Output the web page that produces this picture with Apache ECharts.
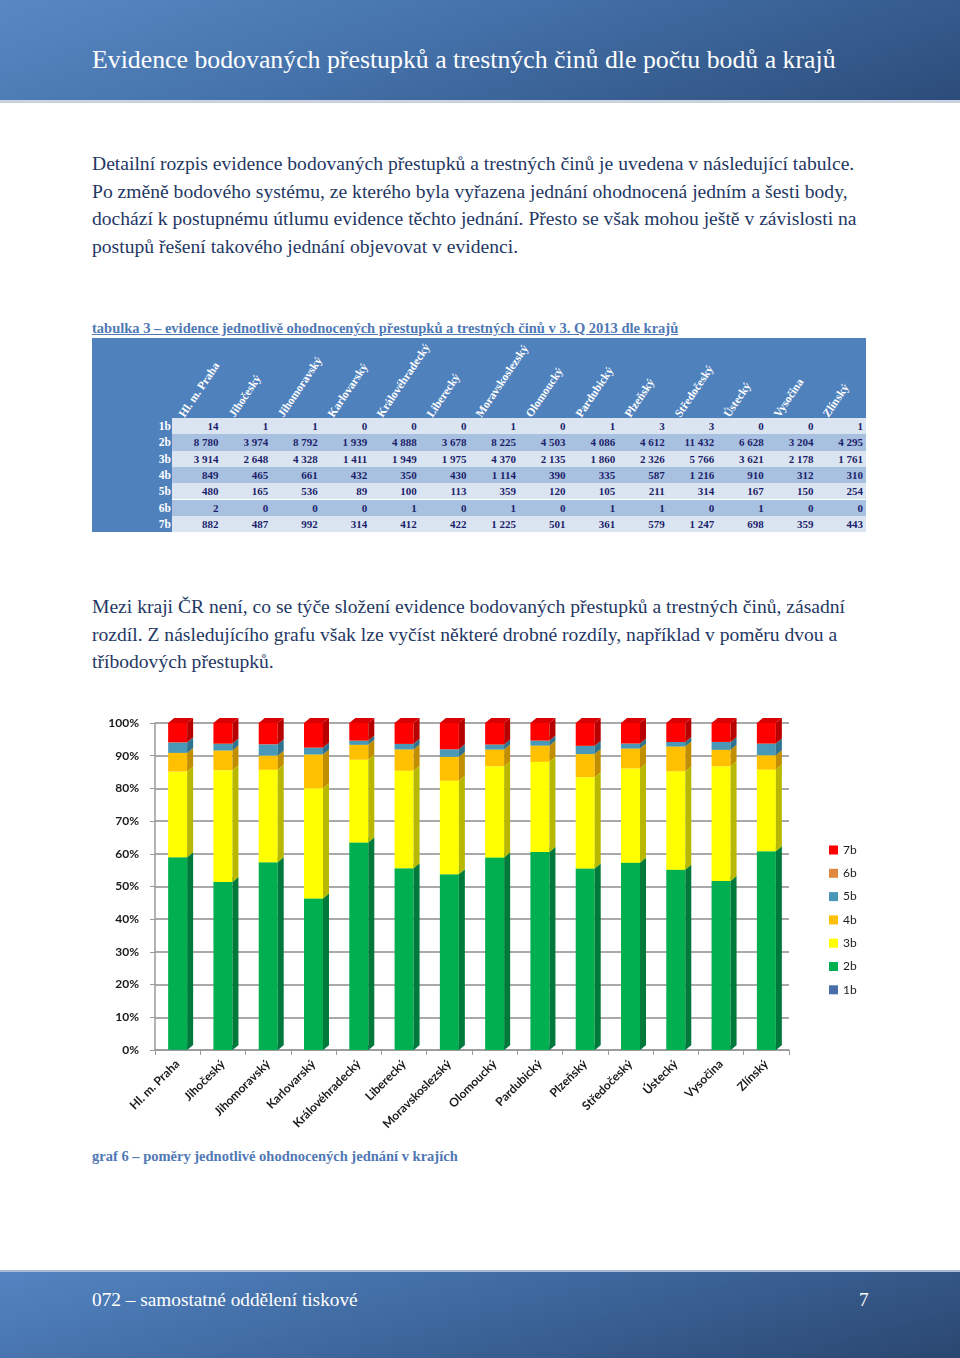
<!DOCTYPE html>
<html>
<head>
<meta charset="utf-8">
<script src="https://cdn.jsdelivr.net/npm/echarts@6/dist/echarts.min.js"></script>
<style>
  html, body { margin:0; padding:0; background:#fff; }
  body { width:960px; height:1358px; position:relative; overflow:hidden; font-family:"Liberation Serif", serif; }
  .hdr { position:absolute; left:0; top:0; width:960px; height:100px;
         background:linear-gradient(160deg, #5888c3 0%, #4370a8 45%, #2c4c7a 100%);
         border-bottom:3px solid #c9d3e0; }
  .hdr .t { position:absolute; left:92px; top:45px; color:#fff; font-size:25.8px; white-space:nowrap; }
  .ftr { position:absolute; left:0; top:1270px; width:960px; height:88px;
         background:linear-gradient(165deg, #5384c1 0%, #3f69a0 45%, #2a466f 100%);
         border-top:2px solid #a8bbd6; }
  .ftr .l { position:absolute; left:92px; top:17px; color:#fff; font-size:19.3px; white-space:nowrap; }
  .ftr .r { position:absolute; left:859px; top:17px; color:#fff; font-size:19.3px; }
  .para { position:absolute; left:92px; color:#1f3864; font-size:19.6px; line-height:27.7px; white-space:nowrap; }
  .cap { position:absolute; left:92px; color:#4f78b5; font-size:14.5px; font-weight:bold; white-space:nowrap; }
  #tbl { position:absolute; left:92px; top:338px; width:774px; height:194px; }
  #chart { position:absolute; left:0; top:700px; width:960px; height:440px; }
</style>
</head>
<body>
<div class="hdr"><div class="t">Evidence bodovaných přestupků a trestných činů dle počtu bodů a krajů</div></div>

<div class="para" style="top:150px;">Detailní rozpis evidence bodovaných přestupků a trestných činů je uvedena v následující tabulce.<br>Po změně bodového systému, ze kterého byla vyřazena jednání ohodnocená jedním a šesti body,<br>dochází k postupnému útlumu evidence těchto jednání. Přesto se však mohou ještě v závislosti na<br>postupů řešení takového jednání objevovat v evidenci.</div>

<div class="cap" style="top:320px; text-decoration:underline;">tabulka 3 – evidence jednotlivě ohodnocených přestupků a trestných činů v 3. Q 2013 dle krajů</div>

<div id="tbl"></div>

<div class="para" style="top:593px;">Mezi kraji ČR není, co se týče složení evidence bodovaných přestupků a trestných činů, zásadní<br>rozdíl. Z následujícího grafu však lze vyčíst některé drobné rozdíly, například v poměru dvou a<br>tříbodových přestupků.</div>

<div id="chart"></div>

<div class="cap" style="top:1148px;">graf 6 – poměry jednotlivé ohodnocených jednání v krajích</div>

<div class="ftr"><div class="l">072 – samostatné oddělení tiskové</div><div class="r">7</div></div>

<script>
// ---- data ----
var regions = ['Hl. m. Praha','Jihočeský','Jihomoravský','Karlovarský','Královéhradecký','Liberecký','Moravskoslezský','Olomoucký','Pardubický','Plzeňský','Středočeský','Ústecký','Vysočina','Zlínský'];
var levels = ['1b','2b','3b','4b','5b','6b','7b'];
var b1 = [14,1,1,0,0,0,1,0,1,3,3,0,0,1];
var b2 = [8780,3974,8792,1939,4888,3678,8225,4503,4086,4612,11432,6628,3204,4295];
var b3 = [3914,2648,4328,1411,1949,1975,4370,2135,1860,2326,5766,3621,2178,1761];
var b4 = [849,465,661,432,350,430,1114,390,335,587,1216,910,312,310];
var b5 = [480,165,536,89,100,113,359,120,105,211,314,167,150,254];
var b6 = [2,0,0,0,1,0,1,0,1,1,0,1,0,0];
var b7 = [882,487,992,314,412,422,1225,501,361,579,1247,698,359,443];
var yTicks = ['0%','10%','20%','30%','40%','50%','60%','70%','80%','90%','100%'];

var rows = [b1,b2,b3,b4,b5,b6,b7];

// ---- table ----
(function(){
  var tbl = document.getElementById('tbl');
  var labW = 80, colW = (774 - labW) / regions.length, headH = 80, rowH = 16.3;
  var html = '<div style="position:absolute;left:0;top:0;width:774px;height:'+headH+'px;background:#4f81bd;"></div>';
  html += '<div style="position:absolute;left:0;top:0;width:'+labW+'px;height:194px;background:#4f81bd;"></div>';
  function fmt(v){ return String(v).replace(/\B(?=(\d{3})+(?!\d))/g, ' '); }
  regions.forEach(function(r, i){
    var x = labW + i*colW + 5;
    html += '<div style="position:absolute;left:'+x+'px;top:'+(headH-5)+'px;transform-origin:0 0;transform:rotate(-56deg);color:#fff;font-weight:bold;font-size:11.5px;white-space:nowrap;line-height:11px;">'+r+'</div>';
  });
  rows.forEach(function(row, ri){
    var y = headH + ri*rowH;
    var bg = (ri % 2 === 0) ? '#dbe5f1' : '#a9c1e0';
    html += '<div style="position:absolute;left:'+labW+'px;top:'+y+'px;width:'+(774-labW)+'px;height:'+rowH+'px;background:'+bg+';"></div>';
    html += '<div style="position:absolute;left:0;top:'+y+'px;width:'+(labW-1)+'px;height:'+rowH+'px;line-height:'+rowH+'px;text-align:right;color:#fff;font-weight:bold;font-size:11.5px;">'+levels[ri]+'</div>';
    row.forEach(function(v, ci){
      var x = labW + ci*colW;
      html += '<div style="position:absolute;left:'+x+'px;top:'+y+'px;width:'+(colW-3)+'px;height:'+rowH+'px;line-height:'+rowH+'px;text-align:right;color:#1c1f6b;font-weight:bold;font-size:11px;white-space:nowrap;">'+fmt(v)+'</div>';
    });
  });
  tbl.innerHTML = html;
})();

// ---- chart ----
var totals = regions.map(function(_, i){ return rows.reduce(function(s, r){ return s + r[i]; }, 0); });
var front = ['#4a6fa8','#00b050','#ffff00','#ffc000','#4a98b8','#e0883e','#ff0000'];
var side  = ['#34527f','#007a3a','#b8b800','#c08e00','#2f7290','#a9612a','#b80000'];
var topc  = ['#5b80b8','#1fc060','#ffff66','#ffd040','#6ab0cc','#eea060','#d80000'];

var series = levels.map(function(lv, li){
  var data = regions.map(function(_, ci){
    var start = 0;
    for (var k = 0; k < li; k++) start += rows[k][ci] / totals[ci];
    return [ci, start, start + rows[li][ci] / totals[ci]];
  });
  return {
    name: lv, type: 'custom', z: 2 + li,
    itemStyle: { color: front[li] },
    encode: { x: 0, y: 2 },
    data: data,
    renderItem: function(params, api){
      var p0 = api.coord([api.value(0), api.value(1)]);
      var p1 = api.coord([api.value(0), api.value(2)]);
      var w = 19, dx = 6, dy = 5;
      var x = p0[0] - w/2, yb = p0[1], yt = p1[1];
      return { type:'group', children:[
        { type:'rect', shape:{ x:x, y:yt, width:w, height:Math.max(0, yb-yt) }, style:{ fill:front[li] } },
        { type:'polygon', shape:{ points:[[x+w,yt],[x+w+dx,yt-dy],[x+w+dx,yb-dy],[x+w,yb]] }, style:{ fill:side[li] } },
        { type:'polygon', shape:{ points:[[x,yt],[x+dx,yt-dy],[x+w+dx,yt-dy],[x+w,yt]] }, style:{ fill:topc[li] } }
      ]};
    }
  };
});

var chart = echarts.init(document.getElementById('chart'), null, { renderer:'canvas' });
chart.setOption({
  animation: false,
  textStyle: { fontFamily: 'Lato, sans-serif' },
  grid: { left: 155, top: 23, width: 634, height: 327 },
  legend: {
    orient: 'vertical', left: 824, top: 139,
    data: ['7b','6b','5b','4b','3b','2b','1b'],
    itemWidth: 9, itemHeight: 9, itemGap: 11.3, icon: 'rect',
    textStyle: { fontSize: 12, color: '#222', fontFamily: 'Lato, sans-serif' }
  },
  xAxis: {
    type: 'category', data: regions,
    axisLine: { show: true, lineStyle: { color: '#999', width: 1.5 } },
    axisTick: { show: true, alignWithLabel: false, length: 5, lineStyle: { color: '#999' } },
    axisLabel: { rotate: 45, interval: 0, margin: 12, fontWeight: 'bold', fontSize: 12, color: '#1a1a1a' }
  },
  yAxis: {
    type: 'value', min: 0, max: 1, interval: 0.1,
    axisLine: { show: true, lineStyle: { color: '#999', width: 1.5 } },
    axisTick: { show: true, length: 5, lineStyle: { color: '#999' } },
    splitLine: { show: true, lineStyle: { color: '#8c8c8c', width: 1.5 } },
    axisLabel: { margin: 16, fontWeight: 'bold', fontSize: 12, color: '#1a1a1a',
      formatter: function(v){ return yTicks[Math.round(v*10)]; } }
  },
  series: series
});
</script>
</body>
</html>
